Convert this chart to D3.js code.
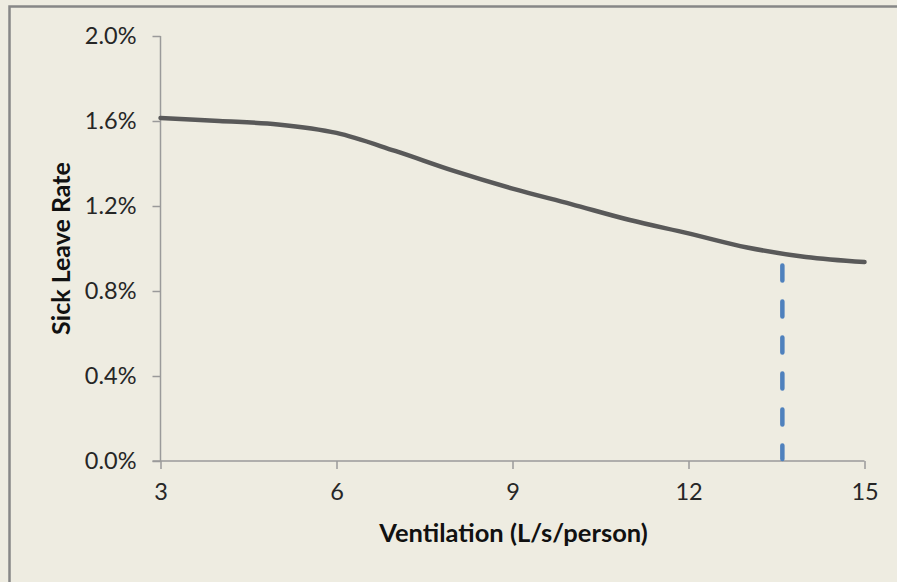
<!DOCTYPE html>
<html>
<head>
<meta charset="utf-8">
<script src="https://cdn.jsdelivr.net/npm/d3@7"></script>
<style>
  html, body { margin: 0; padding: 0; background: #EEECE1; }
  svg { display: block; }
</style>
</head>
<body>
<svg id="chart" width="897" height="582"></svg>
<script>
// ---- data ----
const ventilation = [3, 4, 5, 6, 7, 8, 9, 10, 11, 12, 13, 14, 15];
const sickLeave = [1.614, 1.600, 1.584, 1.544, 1.459, 1.365, 1.282, 1.209, 1.134, 1.071, 1.005, 0.960, 0.936];
const xTicks = [3, 6, 9, 12, 15];
const yTicks = [0, 0.4, 0.8, 1.2, 1.6, 2.0];
const markerX = 13.6;
const markerTop = 0.93;
const xTitle = "Ventilation (L/s/person)";
const yTitle = "Sick Leave Rate";

// ---- layout ----
const svg = d3.select("#chart");
const mLeft = 160.5, mRight = 864.5, mTop = 36, mBottom = 461;
const font = "Lato, 'Open Sans', 'DejaVu Sans', sans-serif";

svg.append("rect").attr("x", 0).attr("y", 0).attr("width", 897).attr("height", 582).attr("fill", "#EEECE1");
svg.append("rect").attr("x", 9.5).attr("y", 6.5).attr("width", 1000).attr("height", 1000)
  .attr("fill", "none").attr("stroke", "#878787").attr("stroke-width", 2.5);

const x = d3.scaleLinear().domain([3, 15]).range([mLeft, mRight]);
const y = d3.scaleLinear().domain([0, 2.0]).range([mBottom, mTop]);

// y axis
const yAxis = svg.append("g").attr("transform", `translate(${mLeft},0)`)
  .call(d3.axisLeft(y).tickValues(yTicks).tickSize(8).tickPadding(16)
    .tickFormat(d => d.toFixed(1) + "%"));
// x axis
const xAxis = svg.append("g").attr("transform", `translate(0,${mBottom})`)
  .call(d3.axisBottom(x).tickValues(xTicks).tickSize(8).tickPadding(14)
    .tickFormat(d3.format("d")));

[yAxis, xAxis].forEach(g => {
  g.select(".domain").attr("stroke", "#9A9A9A").attr("stroke-width", 1.5);
  g.selectAll(".tick line").attr("stroke", "#9A9A9A").attr("stroke-width", 1.5);
  g.selectAll(".tick text").attr("fill", "#262626").style("font-family", font).style("font-size", "23.5px");
});
yAxis.select(".domain").attr("d", `M0,${mTop}V${mBottom}`);
xAxis.select(".domain").attr("d", `M${mLeft - 8},0H${mRight}`);

// dashed marker
svg.append("line")
  .attr("x1", x(markerX)).attr("x2", x(markerX))
  .attr("y1", y(markerTop) + 2).attr("y2", y(0) - 2)
  .attr("stroke", "#4F81BD").attr("stroke-width", 4.5)
  .attr("stroke-linecap", "round").attr("stroke-dasharray", "15,21");

// curve
const line = d3.line().x((d, i) => x(ventilation[i])).y(d => y(d)).curve(d3.curveCatmullRom.alpha(0.5));
svg.append("path").datum(sickLeave).attr("d", line)
  .attr("fill", "none").attr("stroke", "#595959").attr("stroke-width", 4.5)
  .attr("stroke-linecap", "round");

// titles
svg.append("text").attr("x", (mLeft + mRight) / 2 + 1).attr("y", 542)
  .attr("text-anchor", "middle").attr("fill", "#111")
  .style("font-family", font).style("font-weight", "bold").style("font-size", "25.5px")
  .text(xTitle);
svg.append("text").attr("transform", `translate(70,${(mTop + mBottom) / 2}) rotate(-90)`)
  .attr("text-anchor", "middle").attr("fill", "#111")
  .style("font-family", font).style("font-weight", "bold").style("font-size", "25px")
  .text(yTitle);
</script>
</body>
</html>
